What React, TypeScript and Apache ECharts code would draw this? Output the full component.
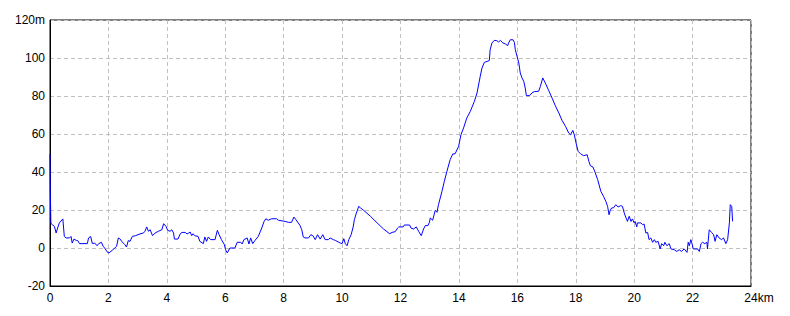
import React, { useEffect, useRef } from "react";
import * as echarts from "echarts";

const distKm = [
  0, 0.01, 0.03, 0.08, 0.15, 0.21, 0.26, 0.32, 0.44, 0.49, 0.55, 0.67, 0.72, 0.76, 0.82, 0.9, 0.95, 1.01,
  1.28, 1.32, 1.39, 1.45, 1.53, 1.61, 1.67, 1.76, 1.82, 1.87, 1.97, 2.02, 2.13, 2.22, 2.28, 2.34, 2.39,
  2.47, 2.56, 2.62, 2.68, 2.74, 2.82, 2.93, 3.08, 3.2, 3.25, 3.31, 3.37, 3.43, 3.51, 3.6, 3.71, 3.83,
  3.89, 3.97, 4.03, 4.11, 4.17, 4.23, 4.26, 4.38, 4.46, 4.52, 4.63, 4.69, 4.75, 4.8,
  4.85, 4.9, 4.95, 5.07, 5.13, 5.25, 5.3, 5.36, 5.42, 5.5, 5.65, 5.73, 5.79, 5.87, 5.97, 6.01, 6.07,
  6.16, 6.33, 6.41, 6.53, 6.58, 6.64, 6.75, 6.81, 6.87, 6.94, 7.02, 7.13, 7.25, 7.33, 7.39, 7.47, 7.59,
  7.76, 7.82, 8.05, 8.16, 8.27, 8.35, 8.42, 8.5, 8.56, 8.62, 8.67, 8.73, 8.85, 8.93, 9.0, 9.08, 9.16,
  9.25, 9.34, 9.42, 9.53, 9.59, 9.7, 9.77, 9.94, 10.0, 10.06, 10.11, 10.17, 10.23, 10.31, 10.38, 10.42,
  10.49, 10.57, 10.63, 10.74, 10.97, 11.2, 11.42, 11.63, 11.71, 11.82, 11.9, 11.94, 12.09, 12.13, 12.31,
  12.36, 12.45, 12.54, 12.62, 12.71, 12.79, 12.85, 12.94, 12.99, 13.02, 13.1, 13.19, 13.25, 13.3, 13.36,
  13.42, 13.5, 13.59, 13.7, 13.79, 13.87, 13.99, 14.07, 14.16, 14.27, 14.39, 14.53, 14.62, 14.73, 14.79,
  14.87, 14.96, 15.04, 15.07, 15.13, 15.21, 15.3, 15.36, 15.42, 15.51, 15.59, 15.67, 15.7, 15.76, 15.85,
  15.9, 15.93, 15.99, 16.05, 16.1, 16.16, 16.22, 16.27, 16.31, 16.42, 16.5, 16.58, 16.73, 16.79, 16.87,
  16.96, 17.07, 17.19, 17.3, 17.42, 17.53, 17.65, 17.76, 17.82, 17.9, 17.95, 18.01, 18.08, 18.16, 18.27,
  18.39, 18.45, 18.5, 18.59, 18.67, 18.75, 18.86, 18.95, 19.03, 19.09, 19.14, 19.18, 19.23, 19.29, 19.37,
  19.45, 19.54, 19.6, 19.66, 19.71, 19.77, 19.83, 19.89, 19.94, 20.0, 20.03, 20.09, 20.11, 20.23, 20.29,
  20.34, 20.4, 20.46, 20.51, 20.57, 20.63, 20.69, 20.74, 20.82, 20.89, 20.94, 21.01, 21.05, 21.12, 21.2,
  21.26, 21.37, 21.46, 21.54, 21.62, 21.71, 21.81, 21.85, 21.89, 21.94, 21.99, 22.02, 22.17, 22.23, 22.29,
  22.34, 22.42, 22.49, 22.51, 22.57, 22.65, 22.72, 22.77, 22.83, 22.91, 22.99, 23.06, 23.14, 23.2, 23.26,
  23.29, 23.34, 23.37,
];

const elevM = [
  49.5, 30, 13, 12.3, 11.4, 7.9, 10.5, 13.2, 15.3, 6.1, 5.3, 5.3, 6.1, 2.6, 4.7, 4.0, 3.9, 2.3,
  2.3, 5.3, 6.1, 2.3, 2.6, 1.2, 2.3, 3.0, 0.9, 0, -2.3, -2.6, -1.2, 0, 0.9, 5.3, 4.9,
  3.2, 1.8, 0.5, 3.9, 3.5, 6.1, 6.5, 7.4, 7.9, 8.8, 11.1, 8.8, 9.6, 6.5, 7.9, 8.8, 9.6,
  12.8, 11.4, 9.3, 8.8, 9.6, 7.9, 4.7, 4.7, 7.5, 8.2, 8.2, 7.4, 7.9, 8.4,
  6.5, 7.5, 6.5, 6.1, 3.5, 2.3, 5.8, 3.5, 5.8, 4.4, 4.4, 9.3, 7.0, 4.4, 1.8, -0.9, -2.6,
  0, 0, 3.0, 3.0, 2.1, 4.4, 5.3, 2.1, 5.3, 2.3, 4.0, 6.1, 10.5, 14.0, 15.4, 14.6, 15.4,
  15.4, 14.6, 14.0, 13.5, 13.5, 16.3, 14.9, 13.2, 11.8, 9.6, 5.8, 5.3, 5.3, 7.0, 6.5, 4.4, 7.0,
  4.7, 7.0, 4.4, 4.4, 5.3, 4.4, 4.0, 2.6, 2.3, 4.9, 2.3, 1.2, 4.4, 7.0, 11.1, 14.9,
  18.4, 21.9, 21.1, 19.8, 16.7, 13.2, 10.0, 7.5, 8.2, 8.6, 10.5, 11.1, 11.1, 12.1, 12.1,
  10.5, 10.0, 11.1, 8.8, 6.5, 10.0, 11.8, 11.8, 13.5, 15.8, 14.6, 19.8, 18.8, 22.8, 26.3,
  29.8, 35.1, 40.4, 46.5, 49.5, 49.6, 53.5, 59.6, 63.2, 68.4, 71.9, 77.2, 81.6, 90.4, 94.7,
  97.7, 98.2, 98.6, 104.4, 107.9, 109.3, 109.1, 108.4, 109.3, 107.9, 107.4, 106.5, 107.9, 109.6, 109.6,
  108.2, 104.4, 100.9, 97.4, 92.1, 89.5, 87.7, 84.2, 80.2, 80.2, 81.6, 82.3, 82.5, 85.1, 89.5,
  86.8, 83.0, 78.9, 74.9, 71.1, 67.2, 64.0, 60.5, 59.6, 61.9, 59.6, 55.3, 50.9, 49.6, 48.6,
  49.1, 45.6, 43.3, 42.6, 39.5, 36.0, 29.8, 27.2, 24.6, 21.9, 17.5, 19.8, 21.1, 21.1, 22.8,
  21.6, 22.3, 21.9, 18.4, 16.3, 14.0, 16.7, 14.0, 15.3, 13.2, 14.0, 11.1, 13.2, 13.2, 12.3,
  12.6, 7.9, 8.2, 4.4, 5.3, 3.0, 4.4, 3.0, 3.5, -0.5, 2.3, 1.2, 3.0, 1.2, 2.3,
  -0.5, -0.9, -1.8, -0.9, -1.8, -0.5, -2.3, 3.0, 1.2, 4.4, 1.8, -0.5, -0.5, -1.8, 2.3,
  3.0, 2.3, 3.0, -0.5, 9.6, 8.2, 7.0, 3.5, 7.0, 5.3, 4.4, 5.3, 2.3, 4.4, 13.2,
  22.8, 21.9, 14.0,
];

const xTicks = { min: 0, max: 24, interval: 2 };
const yTicks = { min: -20, max: 120, interval: 20 };

const FONT = "'Liberation Sans Narrow', 'Arial Narrow', 'Liberation Sans', sans-serif";

export default function App() {
  const ref = useRef<HTMLDivElement>(null);
  useEffect(() => {
    if (!ref.current) return;
    const chart = echarts.init(ref.current, undefined, { renderer: "svg" });
    const data = distKm.map((d, i) => [d, elevM[i]]);
    chart.setOption({
      animation: false,
      backgroundColor: "#ffffff",
      grid: {
        left: 50,
        right: 39,
        top: 20,
        bottom: 30,
        show: true,
        borderColor: "#000000",
        borderWidth: 1,
        backgroundColor: "transparent",
      },
      xAxis: {
        type: "value",
        min: xTicks.min,
        max: xTicks.max,
        interval: xTicks.interval,
        axisLine: { show: true, onZero: false, lineStyle: { color: "#000", width: 1 } },
        axisTick: { show: false },
        splitLine: { show: true, lineStyle: { color: "#c0c0c0", type: [4, 3], width: 1 } },
        axisLabel: {
          color: "#000",
          fontFamily: FONT,
          fontSize: 12,
          margin: 6,
          formatter: (v: number) => (v === xTicks.max ? "{h|km}" + v + "km" : String(v)),
          rich: { h: { color: "transparent", fontFamily: FONT, fontSize: 12 } },
        },
      },
      yAxis: {
        type: "value",
        min: yTicks.min,
        max: yTicks.max,
        interval: yTicks.interval,
        axisLine: { show: true, lineStyle: { color: "#000", width: 1 } },
        axisTick: { show: false },
        splitLine: { show: true, lineStyle: { color: "#c0c0c0", type: [4, 3], width: 1 } },
        axisLabel: {
          color: "#000",
          fontFamily: FONT,
          fontSize: 12,
          margin: 5,
          formatter: (v: number) => (v === yTicks.max ? v + "m" : String(v)),
        },
      },
      series: [
        {
          type: "line",
          data,
          showSymbol: false,
          symbol: "none",
          lineStyle: { color: "#0000ff", width: 1 },
          itemStyle: { color: "#0000ff" },
        },
      ],
    });
    return () => chart.dispose();
  }, []);
  return (
    <div
      ref={ref}
      style={{ position: "fixed", left: 0, top: 0, width: 790, height: 316, background: "#fff" }}
    />
  );
}
